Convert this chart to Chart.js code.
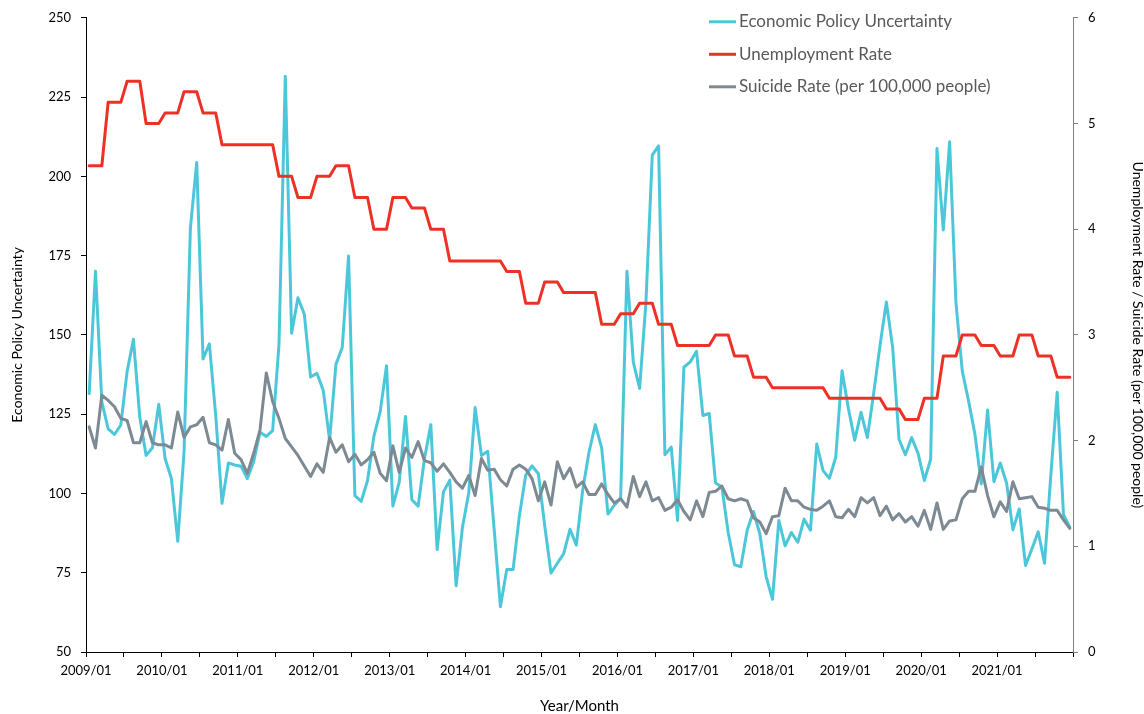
<!DOCTYPE html>
<html>
<head>
<meta charset="utf-8">
<title>Economic Policy Uncertainty, Unemployment and Suicide Rate</title>
<script src="https://cdn.jsdelivr.net/npm/chart.js@4.4.1/dist/chart.umd.min.js"></script>
<style>
  html, body { margin: 0; padding: 0; background: #ffffff; }
  canvas { display: block; }
</style>
</head>
<body>
<canvas id="chart" width="1144" height="714"></canvas>
<script>
// Year labels for the January ticks of the monthly axis
const yearTicks = ['2009/01', '2010/01', '2011/01', '2012/01', '2013/01', '2014/01', '2015/01',
                   '2016/01', '2017/01', '2018/01', '2019/01', '2020/01', '2021/01'];

// Monthly Economic Policy Uncertainty index, 2009/01 - 2021/12
const epu = [
  131.5, 170.1, 128.9, 120.4, 118.6, 121.6, 138.5, 148.6, 124.0, 112.0, 114.4, 128.1,
  111.0, 104.7, 84.9, 113.2, 183.7, 204.4, 142.4, 147.2, 124.6, 96.9, 109.6, 109.0,
  108.6, 104.7, 110.0, 119.3, 118.0, 119.8, 146.9, 231.6, 150.5, 161.7, 156.6, 136.7,
  137.9, 132.5, 116.8, 140.7, 146.0, 174.9, 99.3, 97.5, 104.1, 118.0, 125.8, 140.3,
  96.0, 103.5, 124.3, 98.0, 96.0, 111.0, 121.7, 82.3, 100.5, 104.2, 70.9, 89.3,
  100.2, 127.1, 112.0, 113.3, 89.0, 64.3, 76.0, 76.0, 93.0, 105.8, 108.7, 106.2,
  89.9, 74.9, 78.0, 81.0, 88.7, 83.7, 101.0, 113.0, 121.7, 114.4, 93.5, 96.3,
  98.5, 170.1, 141.5, 133.1, 160.2, 206.7, 209.6, 112.2, 114.6, 91.5, 139.8, 141.5,
  144.8, 124.6, 125.2, 103.3, 102.1, 87.7, 77.5, 76.9, 88.4, 94.3, 87.3, 73.8,
  66.6, 91.5, 83.5, 87.7, 84.6, 91.9, 88.4, 115.6, 107.2, 104.8, 111.4, 138.7,
  126.8, 116.8, 125.6, 117.6, 131.7, 146.7, 160.4, 146.0, 117.1, 112.2, 117.6, 112.7,
  104.1, 110.8, 208.8, 183.1, 210.9, 160.2, 138.6, 129.1, 118.7, 103.0, 126.3, 103.7,
  109.6, 103.3, 88.5, 95.1, 77.3, 82.5, 87.9, 78.0, 105.9, 131.9, 93.3, 89.4
];

// Monthly unemployment rate (%)
const unemployment = [
  4.6, 4.6, 4.6, 5.2, 5.2, 5.2, 5.4, 5.4, 5.4, 5.0, 5.0, 5.0,
  5.1, 5.1, 5.1, 5.3, 5.3, 5.3, 5.1, 5.1, 5.1, 4.8, 4.8, 4.8,
  4.8, 4.8, 4.8, 4.8, 4.8, 4.8, 4.5, 4.5, 4.5, 4.3, 4.3, 4.3,
  4.5, 4.5, 4.5, 4.6, 4.6, 4.6, 4.3, 4.3, 4.3, 4.0, 4.0, 4.0,
  4.3, 4.3, 4.3, 4.2, 4.2, 4.2, 4.0, 4.0, 4.0, 3.7, 3.7, 3.7,
  3.7, 3.7, 3.7, 3.7, 3.7, 3.7, 3.6, 3.6, 3.6, 3.3, 3.3, 3.3,
  3.5, 3.5, 3.5, 3.4, 3.4, 3.4, 3.4, 3.4, 3.4, 3.1, 3.1, 3.1,
  3.2, 3.2, 3.2, 3.3, 3.3, 3.3, 3.1, 3.1, 3.1, 2.9, 2.9, 2.9,
  2.9, 2.9, 2.9, 3.0, 3.0, 3.0, 2.8, 2.8, 2.8, 2.6, 2.6, 2.6,
  2.5, 2.5, 2.5, 2.5, 2.5, 2.5, 2.5, 2.5, 2.5, 2.4, 2.4, 2.4,
  2.4, 2.4, 2.4, 2.4, 2.4, 2.4, 2.3, 2.3, 2.3, 2.2, 2.2, 2.2,
  2.4, 2.4, 2.4, 2.8, 2.8, 2.8, 3.0, 3.0, 3.0, 2.9, 2.9, 2.9,
  2.8, 2.8, 2.8, 3.0, 3.0, 3.0, 2.8, 2.8, 2.8, 2.6, 2.6, 2.6
];

// Monthly suicide rate (per 100,000 people)
const suicide = [
  2.13, 1.93, 2.43, 2.38, 2.32, 2.21, 2.19, 1.98, 1.98, 2.18, 1.98, 1.96,
  1.96, 1.93, 2.27, 2.03, 2.13, 2.15, 2.22, 1.98, 1.96, 1.91, 2.20, 1.88,
  1.82, 1.69, 1.88, 2.10, 2.64, 2.37, 2.21, 2.02, 1.94, 1.86, 1.76, 1.66,
  1.78, 1.70, 2.03, 1.89, 1.96, 1.80, 1.87, 1.77, 1.82, 1.89, 1.69, 1.62,
  1.95, 1.70, 1.93, 1.84, 1.99, 1.81, 1.79, 1.71, 1.78, 1.70, 1.61, 1.55,
  1.67, 1.48, 1.83, 1.72, 1.73, 1.63, 1.57, 1.73, 1.77, 1.73, 1.64, 1.43,
  1.61, 1.39, 1.80, 1.64, 1.74, 1.56, 1.61, 1.49, 1.49, 1.59, 1.49, 1.41,
  1.45, 1.37, 1.66, 1.47, 1.61, 1.43, 1.46, 1.34, 1.37, 1.44, 1.33, 1.25,
  1.43, 1.28, 1.51, 1.52, 1.57, 1.45, 1.43, 1.45, 1.43, 1.27, 1.23, 1.12,
  1.28, 1.29, 1.55, 1.43, 1.43, 1.37, 1.35, 1.34, 1.38, 1.43, 1.28, 1.27,
  1.35, 1.28, 1.46, 1.41, 1.46, 1.29, 1.38, 1.25, 1.31, 1.23, 1.28, 1.19,
  1.34, 1.16, 1.41, 1.16, 1.24, 1.25, 1.45, 1.52, 1.52, 1.75, 1.48, 1.28,
  1.42, 1.33, 1.61, 1.45, 1.46, 1.47, 1.37, 1.36, 1.34, 1.34, 1.25, 1.17
];

const seriesNames = ['Economic Policy Uncertainty', 'Unemployment Rate', 'Suicide Rate (per 100,000 people)'];
const seriesColors = ['#4cc7da', '#ee3126', '#7d8a93'];

// Each month sits in the middle of its slot on a month-count axis
const monthPoints = values => values.map((v, i) => ({ x: i + 0.5, y: v }));
const monthCount = epu.length;

Chart.defaults.font.family = 'Lato, "Open Sans", sans-serif';
Chart.defaults.color = '#000000';

// Vertical legend drawn inside the plot, upper right
const insideLegend = {
  id: 'insideLegend',
  afterDraw(chart) {
    const { ctx, chartArea } = chart;
    const lineStart = chartArea.right - 364;
    const lineEnd = lineStart + 27;
    const rowTop = chartArea.top + 4;
    const rowGap = 32.5;
    ctx.save();
    ctx.font = '17px Lato, "Open Sans", sans-serif';
    ctx.textBaseline = 'middle';
    ctx.textAlign = 'left';
    chart.data.datasets.forEach((ds, k) => {
      const y = rowTop + k * rowGap;
      ctx.strokeStyle = ds.borderColor;
      ctx.lineWidth = 3;
      ctx.lineCap = 'butt';
      ctx.beginPath();
      ctx.moveTo(lineStart, y);
      ctx.lineTo(lineEnd, y);
      ctx.stroke();
      ctx.fillStyle = '#595959';
      ctx.fillText(ds.label, lineEnd + 3, y);
    });
    ctx.restore();
  }
};

new Chart(document.getElementById('chart'), {
  type: 'line',
  data: {
    datasets: [
      {
        label: seriesNames[0], data: monthPoints(epu), yAxisID: 'yLeft',
        borderColor: seriesColors[0], order: 3
      },
      {
        label: seriesNames[1], data: monthPoints(unemployment), yAxisID: 'yRight',
        borderColor: seriesColors[1], order: 2
      },
      {
        label: seriesNames[2], data: monthPoints(suicide), yAxisID: 'yRight',
        borderColor: seriesColors[2], order: 1
      }
    ]
  },
  options: {
    responsive: false,
    animation: false,
    devicePixelRatio: 1,
    layout: { padding: { top: 17, left: 0, right: 0, bottom: 0 } },
    elements: {
      line: { borderWidth: 3, tension: 0, fill: false, borderJoinStyle: 'round', borderCapStyle: 'round' },
      point: { radius: 0, hoverRadius: 0 }
    },
    plugins: {
      legend: { display: false },
      tooltip: { enabled: false }
    },
    scales: {
      x: {
        type: 'linear',
        min: 0,
        max: monthCount,
        afterFit(scale) { scale.height = 62; },
        border: { display: true, color: '#000000', width: 1 },
        grid: { drawOnChartArea: false, drawTicks: true, tickLength: 5, tickColor: '#000000' },
        ticks: {
          stepSize: 6,
          autoSkip: false,
          maxRotation: 0,
          padding: 6,
          color: '#000000',
          font: { size: 13 },
          callback: value => (value % 12 === 0 && value / 12 < yearTicks.length) ? yearTicks[value / 12] : ''
        },
        title: {
          display: true,
          text: 'Year/Month',
          color: '#000000',
          font: { size: 15, lineHeight: 1 },
          padding: { top: 0, bottom: 0 }
        }
      },
      yLeft: {
        type: 'linear',
        position: 'left',
        min: 50,
        max: 250,
        afterFit(scale) { scale.width = 86; },
        border: { display: true, color: '#000000', width: 1 },
        grid: { drawOnChartArea: false, drawTicks: true, tickLength: 5, tickColor: '#000000' },
        ticks: { stepSize: 25, padding: 10, color: '#000000', font: { size: 13 } },
        title: {
          display: true,
          text: 'Economic Policy Uncertainty',
          color: '#000000',
          font: { size: 14, lineHeight: 1.2 },
          padding: { top: 8.6, bottom: 0 }
        }
      },
      yRight: {
        type: 'linear',
        position: 'right',
        min: 0,
        max: 6,
        afterFit(scale) { scale.width = 71; },
        border: { display: true, color: '#7f7f7f', width: 1 },
        grid: { drawOnChartArea: false, drawTicks: true, tickLength: 5, tickColor: '#7f7f7f' },
        ticks: { stepSize: 1, padding: 10, color: '#000000', font: { size: 13 } },
        title: {
          display: true,
          text: 'Unemployment Rate / Suicide Rate (per 100,000 people)',
          color: '#000000',
          font: { size: 14, lineHeight: 0.86 },
          padding: { top: 0, bottom: 0 }
        }
      }
    }
  },
  plugins: [insideLegend]
});
</script>
</body>
</html>
